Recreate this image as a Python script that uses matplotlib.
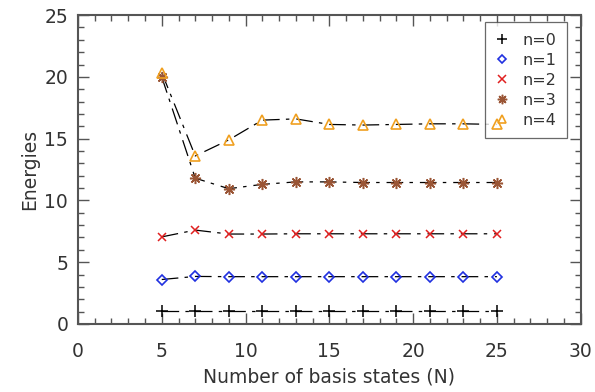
import matplotlib
matplotlib.use("Agg")
import matplotlib.pyplot as plt
from matplotlib.ticker import MultipleLocator

# number of basis states
N = [5, 7, 9, 11, 13, 15, 17, 19, 21, 23, 25]

# energies of the lowest five states
e0 = [1.05, 1.05, 1.05, 1.05, 1.05, 1.05, 1.05, 1.05, 1.05, 1.05, 1.05]
e1 = [3.6, 3.85, 3.83, 3.83, 3.83, 3.83, 3.83, 3.83, 3.83, 3.83, 3.83]
e2 = [7.05, 7.6, 7.28, 7.28, 7.3, 7.3, 7.3, 7.3, 7.3, 7.3, 7.3]
e3 = [20.0, 11.8, 10.95, 11.3, 11.5, 11.5, 11.45, 11.45, 11.45, 11.45, 11.45]
e4 = [20.35, 13.6, 14.9, 16.5, 16.6, 16.15, 16.1, 16.15, 16.2, 16.2, 16.15]

labels = ["n=0", "n=1", "n=2", "n=3", "n=4"]
series = [e0, e1, e2, e3, e4]
markers = ["+", "D", "x", (8, 2, 0), "^"]
colors = ["black", "#2030e0", "#e02020", "#9a5535", "#f0a020"]
msizes = [8, 5, 6, 8, 7]
filled = [True, False, True, True, False]

plt.rcParams["lines.scale_dashes"] = False
txt = "#333333"
axcol = "#555555"

fig = plt.figure(figsize=(5.95, 3.92), dpi=100)
ax = fig.add_axes([0.131, 0.1735, 0.845, 0.788])

for i in range(5):
    ax.plot(N, series[i], color="black", lw=0.9, dashes=(12, 4.5, 2.5, 5), zorder=2)
    if filled[i]:
        ax.plot(N, series[i], ls="none", marker=markers[i], ms=msizes[i],
                color=colors[i], mew=1.1, zorder=4, label=labels[i])
    else:
        ax.plot(N, series[i], ls="none", marker=markers[i], ms=msizes[i],
                mfc="none", mec=colors[i], mew=1.2, zorder=4, label=labels[i])

leg = ax.legend(loc="upper right", bbox_to_anchor=(0.972, 0.977), frameon=True,
                fancybox=False, fontsize=11.5, handlelength=0.9, handletextpad=0.8,
                borderpad=0.65, labelspacing=0.32, borderaxespad=0.0,
                markerscale=0.85)
leg.get_frame().set_edgecolor("#444444")
leg.get_frame().set_linewidth(0.9)
leg.set_zorder(3)
for t in leg.get_texts():
    t.set_color(txt)

ax.set_xlim(0, 30)
ax.set_ylim(0, 25)
ax.xaxis.set_major_locator(MultipleLocator(5))
ax.xaxis.set_minor_locator(MultipleLocator(1))
ax.yaxis.set_major_locator(MultipleLocator(5))
ax.yaxis.set_minor_locator(MultipleLocator(1))
ax.tick_params(which="both", direction="in", top=True, right=True, color=axcol,
               width=1.0, labelcolor=txt, labelsize=13.5)
ax.tick_params(which="major", length=8)
ax.tick_params(which="minor", length=4)
ax.tick_params(axis="x", which="major", pad=13)
ax.tick_params(axis="y", which="major", pad=7)
for s in ax.spines.values():
    s.set_color(axcol)
    s.set_linewidth(1.5)

ax.set_xlabel("Number of basis states (N)", fontsize=13.5, color=txt, labelpad=5)
ax.set_ylabel("Energies", fontsize=13.5, color=txt, labelpad=4)

fig.savefig("out.png", dpi=100)
